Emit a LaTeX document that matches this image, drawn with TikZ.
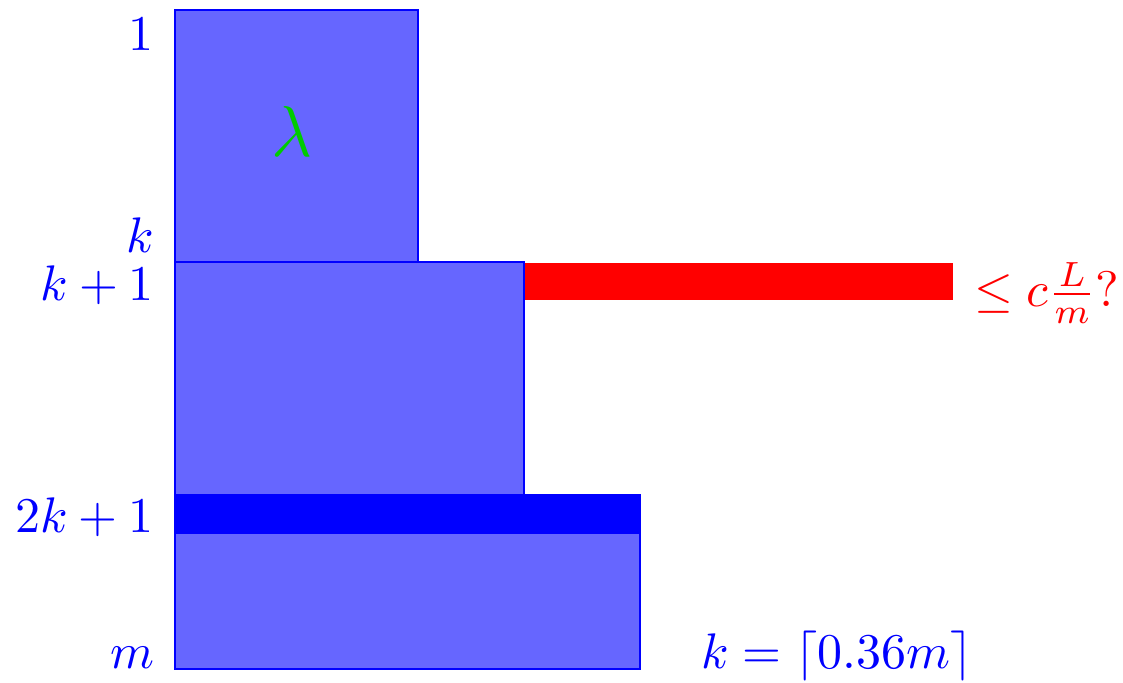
\documentclass[tikz,border=0pt]{standalone}
\begin{document}
\begin{tikzpicture}[x=0.2pt,y=-0.2pt,
  blk/.style={draw=blue,fill=blue!60,line width=0.4pt},
  lbl/.style={inner sep=0pt,text=blue,anchor=base east}]
\useasboundingbox (0,0) rectangle (1123,682);
\draw[blk] (175,10) rectangle (418,262);
\draw[blk] (175,262) rectangle (524,495);
\draw[blk] (175,495) rectangle (640,669);
\fill[blue] (175,496) rectangle (641,534);
\fill[red] (525,263) rectangle (953,300);
\node[lbl] (l1) at (155,50) {$1$};
\node[lbl] (lk) at (155,252) {$k$};
\node[lbl] (lk1) at (155,300) {$k+1$};
\node[lbl] (l2k) at (155,532) {$2k+1$};
\node[lbl] (lm) at (155,668) {$m$};
\node[inner sep=0pt,anchor=base,text=green!80!black,font=\Large] (lam) at (292,156) {$\lambda$};
\node[inner sep=0pt,anchor=base west,text=red] (q) at (973,306) {$\leq c\frac{L}{m}?$};
\node[inner sep=0pt,anchor=base west,text=blue] (kk) at (700,668) {$k=\lceil 0.36m\rceil$};
\end{tikzpicture}
\end{document}
